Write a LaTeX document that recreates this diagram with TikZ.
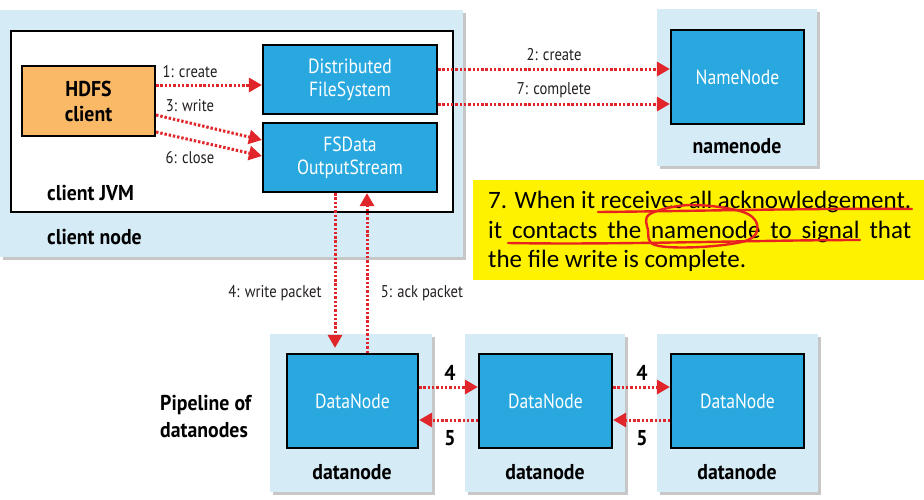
\documentclass[tikz,border=0pt]{standalone}
\usepackage{fontspec}
\setmainfont{PT Sans}
\newfontfamily\dia[FakeStretch=0.86]{PT Sans}
\newfontfamily\bdia[FakeStretch=0.92]{PT Sans}
\newfontfamily\calfont{Carlito}
\usetikzlibrary{arrows.meta,shadows,calc}
\definecolor{bgblue}{HTML}{D5EBF6}
\definecolor{boxblue}{HTML}{29A8E0}
\definecolor{orangefill}{HTML}{F9B967}
\definecolor{arrowred}{HTML}{E0262A}
\definecolor{penred}{HTML}{E8231F}
\definecolor{labelgray}{HTML}{231F20}
\tikzset{
  container/.style={fill=bgblue, draw=none, inner sep=0pt,
    drop shadow={shadow xshift=3pt, shadow yshift=-3pt, fill=black, opacity=0.22}},
  comp/.style={fill=boxblue, draw=black, line width=2.2pt, inner sep=0pt, text=white,
    font=\dia\fontsize{20.5}{23}\selectfont, align=center},
  flow/.style={draw=arrowred, line width=3pt, dash pattern=on 2.4pt off 1.9pt,
    -{Triangle[length=13pt,width=14pt]}},
  lbl/.style={text=labelgray, font=\dia\fontsize{17}{20}\selectfont, inner sep=0pt},
  blbl/.style={text=black, font=\bdia\bfseries\fontsize{21.5}{27}\selectfont, inner sep=0pt},
  pen/.style={draw=penred, line width=2.4pt, line cap=round, line join=round},
  notetext/.style={font=\calfont\fontsize{25}{29.5}\selectfont, inner sep=0pt, anchor=base west}
}
\begin{document}
\begin{tikzpicture}[x=1pt,y=-1pt]
\useasboundingbox (0,0) rectangle (924,499);
\fill[white] (0,0) rectangle (924,499);

% containers
\node[container, minimum width=463pt, minimum height=247pt] (clientnode) at (231.5,133.5) {};
\node[container, minimum width=160pt, minimum height=157pt] (nncont) at (737,87.5) {};
\node[container, minimum width=162pt, minimum height=158pt] (dc1) at (351,413) {};
\node[container, minimum width=160pt, minimum height=158pt] (dc2) at (545,413) {};
\node[container, minimum width=161pt, minimum height=158pt] (dc3) at (737.5,413) {};

% client JVM
\node[fill=white, draw=black, line width=2.2pt, minimum width=442pt, minimum height=181pt, inner sep=0pt] (jvm) at (232,121.5) {};

% components
\node[comp, fill=orangefill, text=black, font=\bdia\bfseries\fontsize{21.5}{25}\selectfont,
  minimum width=133pt, minimum height=70pt] (hdfs) at (88.5,101) {HDFS\\client};
\node[comp, minimum width=174pt, minimum height=69pt] (dfs) at (350,79.5) {Distributed\\FileSystem};
\node[comp, minimum width=174pt, minimum height=69pt] (fsd) at (350,157.5) {FSData\\OutputStream};
\node[comp, minimum width=133pt, minimum height=94pt] (nn) at (737.5,77) {NameNode};
\node[comp, minimum width=131pt, minimum height=94pt] (dn1) at (352.5,401) {DataNode};
\node[comp, minimum width=133pt, minimum height=94pt] (dn2) at (545.5,401) {DataNode};
\node[comp, minimum width=133pt, minimum height=94pt] (dn3) at (737.5,401) {DataNode};

% container labels
\node[blbl, anchor=west] (jvmlbl) at (47,193) {client JVM};
\node[blbl, anchor=west] (cnlbl) at (47,237) {client node};
\node[blbl] (nnlbl) at (737,146) {namenode};
\node[blbl] (d1lbl) at (352,472) {datanode};
\node[blbl] (d2lbl) at (545,472) {datanode};
\node[blbl] (d3lbl) at (737,472) {datanode};
\node[blbl, align=left, anchor=west] (pipe) at (160,416) {Pipeline of\\datanodes};

% client-side arrows
\draw[flow] ([yshift=16pt]hdfs.east) -- ([yshift=-5.5pt]dfs.west);
\draw[flow] ([yshift=-14pt]hdfs.east) -- ([yshift=17.5pt]fsd.west);
\draw[flow] ([yshift=-31pt]hdfs.east) -- ([yshift=1.5pt]fsd.west);
\node[lbl] (l1) at (190,72) {1: create};
\node[lbl] (l3) at (190,106) {3: write};
\node[lbl] (l6) at (190,158) {6: close};

% to namenode
\draw[flow] ([yshift=10.5pt]dfs.east) -- ([yshift=8pt]nn.west);
\draw[flow] ([yshift=-24.5pt]dfs.east) -- ([yshift=-27pt]nn.west);
\node[lbl] (l2) at (554,55) {2: create};
\node[lbl] (l7) at (554,90) {7: complete};

% packets
\draw[flow, shorten >=5pt] ([xshift=-15pt]fsd.south) -- ([xshift=-17.5pt]dn1.north);
\draw[flow] ([xshift=14.5pt]dn1.north) -- ([xshift=17pt]fsd.south);
\node[lbl] (l4) at (275,293) {4: write packet};
\node[lbl] (l5) at (422,293) {5: ack packet};

% pipeline
\draw[flow] ([yshift=14pt]dn1.east) -- ([yshift=14pt]dn2.west);
\draw[flow] ([yshift=-19pt]dn2.west) -- ([yshift=-19pt]dn1.east);
\draw[flow] ([yshift=14pt]dn2.east) -- ([yshift=14pt]dn3.west);
\draw[flow] ([yshift=-19pt]dn3.west) -- ([yshift=-19pt]dn2.east);
\node[blbl] (p4a) at (450,373) {4};
\node[blbl] (p5a) at (450,438) {5};
\node[blbl] (p4b) at (642,373) {4};
\node[blbl] (p5b) at (642,438) {5};

% yellow note
\node[fill=yellow, draw=none, minimum width=451pt, minimum height=100pt, inner sep=0pt] (note) at (698.5,230) {};
\node[notetext] (t1) at (488,208) {\makebox[423pt][s]{7. When it receives all acknowledgement.}};
\node[notetext] (t2) at (488,238) {\makebox[423pt][s]{it contacts the namenode to signal that}};
\node[notetext] (t3) at (488,267.5) {the file write is complete.};

% pen marks
\draw[pen] (598,212) .. controls (700,211) and (820,208) .. (912,209);
\draw[pen] (508,243) .. controls (620,245) and (760,240) .. (860,240);
\draw[pen] plot[smooth cycle, tension=0.6] coordinates {(650,214) (690,205) (740,211) (757,224) (748,240) (700,247) (655,245) (648,230)};
\end{tikzpicture}
\end{document}
